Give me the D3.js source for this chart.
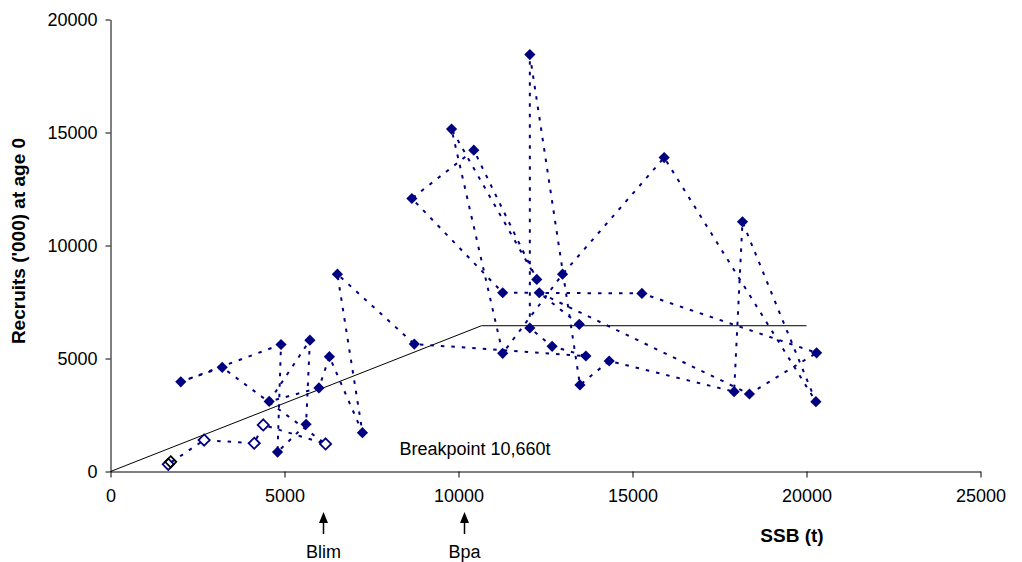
<!DOCTYPE html>
<html>
<head>
<meta charset="utf-8">
<script src="https://cdn.jsdelivr.net/npm/d3@7"></script>
<style>
  html, body { margin: 0; padding: 0; background: #fff; }
  svg text { font-family: "Liberation Sans", Arial, sans-serif; fill: #000; }
</style>
</head>
<body>
<svg id="chart" width="1022" height="562"></svg>
<script>
// Spawning stock biomass (t) and recruits ('000, age 0), one value per year in time order
const ssb = [13470, 12320, 18360, 20290, 15270, 11270, 8660, 10440, 12250, 9800,
             11270, 12990, 15910, 20270, 18160, 17920, 14330, 13490, 12050, 12050,
             12690, 13660, 8730, 6520, 7240, 6290, 5990, 4560, 5730, 5620,
             4800, 4900, 2020, 3210, 6180, 4390, 4130, 2690, 1660, 1730];
const recruits = [6510, 7910, 3430, 5250, 7880, 7910, 12080, 14220, 8500, 15150,
                  5230, 8730, 13890, 3090, 11050, 3530, 4890, 3830, 18450, 6350,
                  5540, 5110, 5640, 8730, 1720, 5080, 3700, 3100, 5810, 2090,
                  860, 5620, 3970, 4610, 1220, 2060, 1250, 1390, 320, 430];
// The final years are shown with open markers; the very last one is outlined in black
const recentYears = 6;

// Segmented stock-recruit fit
const breakpoint = 10660;
const plateau = 6450;
const fitEnd = 20000;

// Axis ticks and reference points
const xTicks = [0, 5000, 10000, 15000, 20000, 25000];
const yTicks = [0, 5000, 10000, 15000, 20000];
const refPoints = [{name: "Blim", ssb: 6100}, {name: "Bpa", ssb: 10150}];

const svg = d3.select("#chart");
const plot = {left: 110.5, right: 980.5, top: 19.5, bottom: 471.5};

const x = d3.scaleLinear().domain([0, 25000]).range([plot.left, plot.right]);
const y = d3.scaleLinear().domain([0, 20000]).range([plot.bottom, plot.top]);

const navy = "#000080";

// Axes
const xAxis = svg.append("g").attr("transform", `translate(0,${plot.bottom})`)
  .call(d3.axisBottom(x).tickValues(xTicks).tickSize(6).tickSizeOuter(0).tickPadding(12).tickFormat(d3.format("d")));
const yAxis = svg.append("g").attr("transform", `translate(${plot.left},0)`)
  .call(d3.axisLeft(y).tickValues(yTicks).tickSize(5).tickSizeOuter(0).tickPadding(8).tickFormat(d3.format("d")));
[xAxis, yAxis].forEach(a => {
  a.select(".domain").attr("stroke", "#000").attr("stroke-width", 1);
  a.selectAll(".tick line").attr("stroke", "#000");
  a.selectAll(".tick text").attr("font-size", 18).attr("font-family", "Liberation Sans, Arial, sans-serif").attr("fill", "#000");
});

// Fitted hockey-stick line
svg.append("path")
  .attr("d", d3.line()([[x(0), y(0)], [x(breakpoint), y(plateau)], [x(fitEnd), y(plateau)]]))
  .attr("fill", "none").attr("stroke", "#000").attr("stroke-width", 1);

svg.append("text").attr("x", x(breakpoint) - 82).attr("y", y(0) - 17)
  .attr("font-size", 18).text("Breakpoint 10,660t");

// Year-to-year trajectory
const pts = ssb.map((s, i) => ({s, r: recruits[i], i}));
svg.append("path")
  .attr("d", d3.line().x(d => x(d.s)).y(d => y(d.r))(pts))
  .attr("fill", "none").attr("stroke", navy).attr("stroke-width", 2)
  .attr("stroke-dasharray", "3.5,7");

// Markers
const n = pts.length;
const diamond = d3.symbol().type(d3.symbolDiamond2).size(80);
svg.append("g").selectAll("path").data(pts).join("path")
  .attr("transform", d => `translate(${x(d.s)},${y(d.r)})`)
  .attr("d", diamond())
  .attr("fill", d => d.i < n - recentYears ? navy : (d.i === n - 1 ? "none" : "#fff"))
  .attr("stroke", d => d.i < n - recentYears ? "none" : (d.i === n - 1 ? "#000" : navy))
  .attr("stroke-width", 1.8);

// Reference point arrows
const refs = svg.append("g").selectAll("g").data(refPoints).join("g")
  .attr("transform", d => `translate(${Math.round(x(d.ssb)) + 0.5},0)`);
refs.append("line").attr("y1", 534).attr("y2", 520).attr("stroke", "#000").attr("stroke-width", 1.5);
refs.append("path").attr("d", "M0,512L-4.5,523L4.5,523Z").attr("fill", "#000");
refs.append("text").attr("y", 558).attr("text-anchor", "middle").attr("font-size", 18).text(d => d.name);

// Axis titles
svg.append("text").attr("x", 792).attr("y", 542).attr("text-anchor", "middle")
  .attr("font-size", 19).attr("font-weight", "bold").text("SSB (t)");
svg.append("text").attr("transform", `translate(25,241) rotate(-90)`).attr("text-anchor", "middle")
  .attr("font-size", 19).attr("font-weight", "bold").text("Recruits ('000) at age 0");
</script>
</body>
</html>
